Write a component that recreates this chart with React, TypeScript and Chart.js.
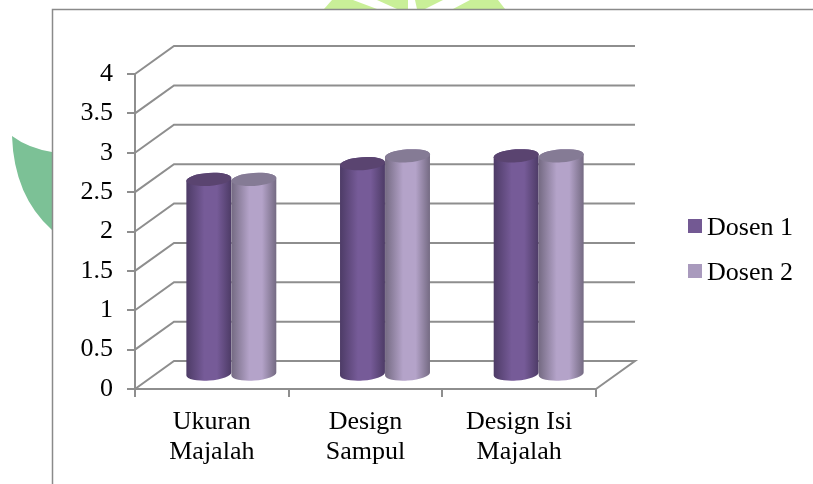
import React, { useEffect, useRef } from "react";
import { Chart, registerables } from "chart.js";

Chart.register(...registerables);

const categories = [["Ukuran", "Majalah"], ["Design", "Sampul"], ["Design Isi", "Majalah"]];
const dosen1 = [2.5, 2.7, 2.8];
const dosen2 = [2.5, 2.8, 2.8];
const seriesNames = ["Dosen 1", "Dosen 2"];
const legendColors = ["#735993", "#a99abd"];
const yTicks = [0, 0.5, 1, 1.5, 2, 2.5, 3, 3.5, 4];

const FONT = "'Liberation Serif', 'Times New Roman', serif";
const GRID = "#8e8e8e";
const DEPTH_X = 39;
const DEPTH_Y = 28;
// Cylinders stand halfway into the floor depth.
const BAR_DX = 19.5;
const BAR_DY_TOP = 12.7;
const BAR_DY_BASE = 14;
const CAP_RY = 6.5;
const CAP_TILT = -0.07;

const shades = [
  { edge: "#4d3b66", mid: "#765b98", top: "#5a4470" },
  { edge: "#746a82", mid: "#b4a3c9", top: "#857b95" },
];

// Watermark shapes behind the chart frame and the white frame itself.
const backdrop = {
  id: "backdrop",
  beforeDraw(chart: any) {
    const { ctx } = chart;
    const leaf = (points: number[][]) => {
      ctx.beginPath();
      points.forEach(([x, y], i) => (i ? ctx.lineTo(x, y) : ctx.moveTo(x, y)));
      ctx.fill();
    };
    ctx.save();
    ctx.fillStyle = "#ffffff";
    ctx.fillRect(0, 0, 813, 484);
    ctx.fillStyle = "#7cc196";
    ctx.beginPath();
    ctx.moveTo(12, 136);
    ctx.quadraticCurveTo(28, 148, 52, 152);
    ctx.lineTo(52, 230);
    ctx.quadraticCurveTo(14, 196, 12, 136);
    ctx.fill();
    ctx.fillStyle = "#c9ef98";
    leaf([[324, 9], [332, 0], [353, 0], [377, 9]]);
    leaf([[377, 0], [408, 0], [408, 9], [397, 9]]);
    leaf([[415, 0], [443, 0], [425, 9], [417, 9]]);
    leaf([[470, 0], [498, 0], [505, 9], [453, 9]]);
    ctx.fillStyle = "#ffffff";
    ctx.fillRect(52, 10, 761, 474);
    ctx.strokeStyle = "#8a8a8a";
    ctx.lineWidth = 1.5;
    ctx.beginPath();
    ctx.moveTo(813, 9.5);
    ctx.lineTo(52.5, 9.5);
    ctx.lineTo(52.5, 484);
    ctx.stroke();
    ctx.restore();
  },
};

// Side wall, back wall and floor of the 3-D box, positioned from the axes.
const box = {
  id: "box",
  beforeDatasetsDraw(chart: any) {
    const { ctx, scales } = chart;
    const left = scales.x.left;
    const right = scales.x.right;
    ctx.save();
    ctx.strokeStyle = GRID;
    ctx.lineWidth = 2;
    yTicks.forEach((t) => {
      const y = scales.y.getPixelForValue(t);
      ctx.beginPath();
      ctx.moveTo(left, y);
      ctx.lineTo(left + DEPTH_X, y - DEPTH_Y);
      ctx.lineTo(right + DEPTH_X, y - DEPTH_Y);
      if (t === 0) ctx.lineTo(right, y);
      ctx.stroke();
    });
    ctx.restore();
  },
};

// Replaces each flat bar with a shaded cylinder at the same scale position.
const cylinders = {
  id: "cylinders",
  beforeDatasetDraw() {
    return false;
  },
  afterDatasetsDraw(chart: any) {
    const { ctx } = chart;
    shades.forEach((tone, index) => {
      chart.getDatasetMeta(index).data.forEach((bar: any) => {
        const w = bar.width;
        const x0 = bar.x - w / 2 + BAR_DX;
        const x1 = bar.x + w / 2 + BAR_DX;
        const cx = bar.x + BAR_DX;
        const yTop = bar.y - BAR_DY_TOP;
        const yBase = bar.base - BAR_DY_BASE;
        const grad = ctx.createLinearGradient(x0, 0, x1, 0);
        grad.addColorStop(0, tone.edge);
        grad.addColorStop(0.4, tone.mid);
        grad.addColorStop(0.68, tone.mid);
        grad.addColorStop(1, tone.edge);
        ctx.save();
        ctx.fillStyle = grad;
        ctx.beginPath();
        ctx.ellipse(cx, yBase, w / 2, CAP_RY, CAP_TILT, Math.PI, 0, true);
        ctx.ellipse(cx, yTop, w / 2, CAP_RY, CAP_TILT, 0, Math.PI, true);
        ctx.closePath();
        ctx.fill();
        ctx.fillStyle = tone.top;
        ctx.beginPath();
        ctx.ellipse(cx, yTop, w / 2, CAP_RY, CAP_TILT, 0, Math.PI * 2);
        ctx.fill();
        ctx.restore();
      });
    });
  },
};

// Series key to the right of the box.
const seriesKey = {
  id: "seriesKey",
  afterDraw(chart: any) {
    const { ctx } = chart;
    ctx.save();
    ctx.font = `26px ${FONT}`;
    ctx.textBaseline = "alphabetic";
    ctx.textAlign = "left";
    seriesNames.forEach((name, i) => {
      const y = 219 + i * 45;
      ctx.fillStyle = legendColors[i];
      ctx.fillRect(688, y, 14, 14);
      ctx.fillStyle = "#000";
      ctx.fillText(name, 707, y + 16);
    });
    ctx.restore();
  },
};

export default function App() {
  const ref = useRef<HTMLCanvasElement>(null);

  useEffect(() => {
    const chart = new Chart(ref.current as HTMLCanvasElement, {
      type: "bar",
      data: {
        labels: categories as any,
        datasets: [
          { label: seriesNames[0], data: dosen1, backgroundColor: legendColors[0] },
          { label: seriesNames[1], data: dosen2, backgroundColor: legendColors[1] },
        ],
      },
      plugins: [backdrop, box, cylinders, seriesKey],
      options: {
        responsive: false,
        animation: false,
        layout: { padding: { left: 0, right: 217, top: 74, bottom: 0 } },
        datasets: { bar: { categoryPercentage: 0.586, barPercentage: 1 } },
        scales: {
          x: {
            offset: true,
            afterFit(axis: any) {
              axis.height = 95;
            },
            grid: { drawOnChartArea: false, color: GRID, lineWidth: 2, tickLength: 8 },
            border: { color: GRID, width: 2 },
            ticks: {
              color: "#000",
              font: { family: FONT, size: 26, lineHeight: 1.15 },
              maxRotation: 0,
              padding: 10,
            },
          },
          y: {
            min: 0,
            max: 4,
            afterFit(axis: any) {
              axis.width = 135;
            },
            grid: { drawOnChartArea: false, color: GRID, lineWidth: 2, tickLength: 8 },
            border: { color: GRID, width: 2 },
            ticks: {
              stepSize: 0.5,
              color: "#000",
              font: { family: FONT, size: 26 },
              padding: 14,
              callback: (v: any) => String(v),
            },
          },
        },
        plugins: {
          tooltip: { enabled: false },
          title: { display: false },
          legend: { display: false },
        },
      },
    } as any);
    return () => chart.destroy();
  }, []);

  return (
    <canvas
      ref={ref}
      width={813}
      height={484}
      style={{ position: "fixed", left: 0, top: 0, display: "block" }}
    />
  );
}
